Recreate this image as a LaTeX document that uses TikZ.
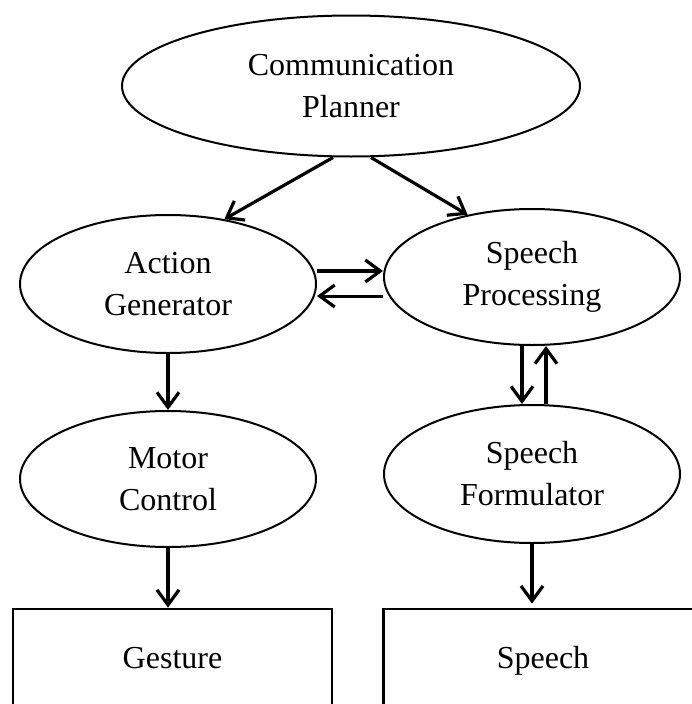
\documentclass[tikz,border=0pt]{standalone}
\usepackage{fontspec}
\setmainfont{Liberation Serif}
\usetikzlibrary{shapes.geometric,arrows.meta}
\tikzset{
  x=1pt, y=-1pt,
  oval/.style={draw, ellipse, line width=2pt, inner sep=0pt, align=center,
    font=\fontsize{32}{42}\selectfont},
  outbox/.style={draw, rectangle, line width=2.8pt, inner sep=0pt,
    minimum width=319pt, minimum height=96pt, text height=22pt, text depth=0pt,
    font=\fontsize{32}{42}\selectfont},
  arr/.style={line width=3.2pt, -{Straight Barb[length=15pt,width=22pt,line width=3.2pt]}},
}
\begin{document}
\begin{tikzpicture}
\clip (0,0) rectangle (692,704);
\node[oval, minimum width=458pt, minimum height=141pt] (cp) at (351,86) {Communication\\Planner};
\node[oval, minimum width=296pt, minimum height=138pt] (ag) at (168,284) {Action\\Generator};
\node[oval, minimum width=296pt, minimum height=136pt] (sp) at (532,277) {Speech\\Processing};
\node[oval, minimum width=296pt, minimum height=136pt] (mc) at (168,479) {Motor\\Control};
\node[oval, minimum width=296pt, minimum height=138pt] (sf) at (532,474) {Speech\\Formulator};
\node[outbox] (ge) at (172.5,657) {Gesture};
\node[outbox] (so) at (543,657) {Speech};

\draw[arr] ([xshift=-18pt]cp.south) -- (ag.49);
\draw[arr] ([xshift=20pt]cp.south) -- (sp.136);
\draw[arr, line width=3.8pt] ([yshift=13pt]ag.east) -- ([yshift=13pt]ag.east -| sp.west);
\draw[arr, line width=3pt] ([yshift=-12pt]ag.east -| sp.west) -- ([yshift=-12pt]ag.east);
\draw[arr] (ag.south) -- (mc.north);
\draw[arr] ([xshift=-10pt]sp.south) -- ([xshift=-10pt]sp.south |- sf.north);
\draw[arr] ([xshift=14pt]sp.south |- sf.north) -- ([xshift=14pt]sp.south);
\draw[arr] (mc.south) -- (mc.south |- ge.north);
\draw[arr] (sf.south) -- ([yshift=4pt]sf.south |- so.north);
\end{tikzpicture}
\end{document}
